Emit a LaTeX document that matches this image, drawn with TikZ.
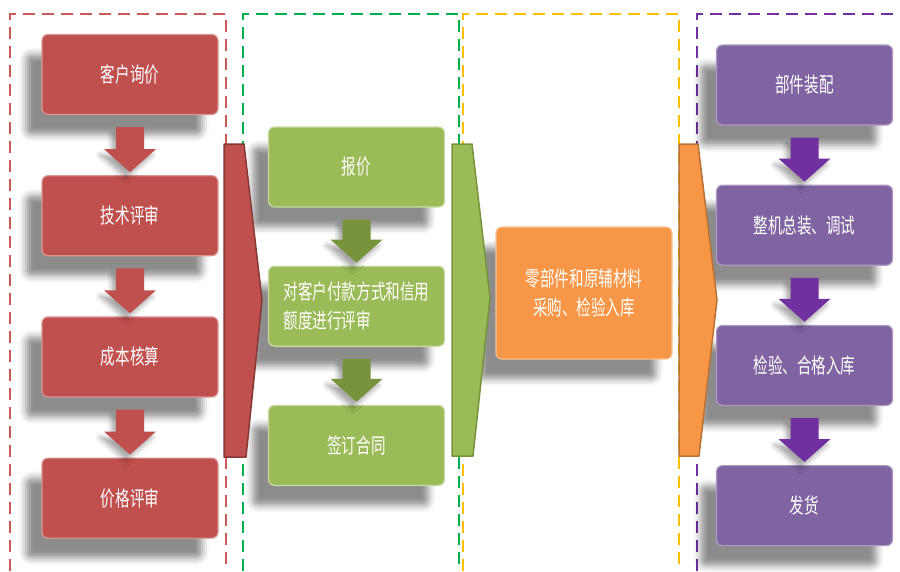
\documentclass[tikz,border=0pt]{standalone}
\usepackage{fontspec}
\usepackage{tikz}
\usetikzlibrary{positioning, calc, shadows.blur}
\newfontfamily\cjk{Noto Sans CJK SC}
\definecolor{stagered}{RGB}{192,80,77}
\definecolor{stagegreen}{RGB}{155,187,89}
\definecolor{stageorange}{RGB}{247,150,70}
\definecolor{stagepurple}{RGB}{128,100,162}
\definecolor{arrowgreen}{RGB}{119,147,60}
\definecolor{arrowpurple}{RGB}{112,48,160}
\definecolor{framered}{RGB}{200,90,88}
\definecolor{framegreen}{RGB}{0,176,80}
\definecolor{frameyellow}{RGB}{255,192,0}
\definecolor{framepurple}{RGB}{112,48,160}

% taller glyphs for the box labels
\newcommand{\tall}[1]{\scalebox{0.97}[1.4]{#1}}

% fat down arrow between two stacked boxes
\newcommand{\flowarrow}[3]{%
  \fill[#3] ([xshift=-14pt,yshift=-12pt]#1.south) -- ([xshift=14pt,yshift=-12pt]#1.south)
    -- ([xshift=14pt,yshift=26pt]#2.north) -- ([xshift=26pt,yshift=26pt]#2.north)
    -- ([yshift=3pt]#2.north) -- ([xshift=-26pt,yshift=26pt]#2.north)
    -- ([xshift=-14pt,yshift=26pt]#2.north) -- cycle;}

\tikzset{
    stagebox/.style={
        rounded corners=6pt,
        minimum width=176pt,
        minimum height=80pt,
        line width=1.2pt,
        text=white,
        font=\cjk\fontsize{15}{29}\selectfont,
        blur shadow={shadow xshift=-16pt, shadow yshift=-20pt, shadow blur radius=7pt, shadow opacity=45}
    },
    redbox/.style={stagebox, fill=stagered, draw=stagered!60!white},
    greenbox/.style={stagebox, fill=stagegreen, draw=stagegreen!55!white},
    orangebox/.style={stagebox, fill=stageorange, draw=stageorange!60!white},
    purplebox/.style={stagebox, fill=stagepurple, draw=stagepurple!65!white},
    downarrow/.style={
        blur shadow={shadow xshift=-4pt, shadow yshift=-6pt, shadow blur radius=5pt, shadow opacity=35}
    },
    frame/.style={line width=2.4pt, dash pattern=on 12pt off 7pt},
    chevron/.style={line width=1.5pt, line join=round}
}

\begin{document}
\begin{tikzpicture}[x=1pt, y=-1pt]
    \useasboundingbox (0,0) rectangle (900,571);

    % dashed phase frames, open at the bottom
    \draw[frame, framered] (10,571) -- (10,14) -- (226,14) -- (226,571);
    \draw[frame, framegreen, line width=1.5pt] (243,571) -- (243,14) -- (459,14) -- (459,571);
    \draw[frame, frameyellow] (463,571) -- (463,14) -- (679,14) -- (679,571);
    \draw[frame, framepurple] (697,571) -- (697,14) -- (900,14);

    % red column
    \node[redbox] (inquiry) at (130,74.5) {\tall{客户询价}};
    \node[redbox, below=60pt of inquiry] (techreview) {\tall{技术评审}};
    \node[redbox, below=60pt of techreview] (costcheck) {\tall{成本核算}};
    \node[redbox, below=60pt of costcheck] (pricereview) {\tall{价格评审}};

    % green column
    \node[greenbox] (quote) at (356.5,167) {\tall{报价}};
    \node[greenbox, below=58pt of quote, align=left] (credit)
        {\tall{对客户付款方式和信用}\\\tall{额度进行评审}};
    \node[greenbox, below=58pt of credit] (contract) {\tall{签订合同}};

    % orange column
    \node[orangebox, minimum height=132pt, align=center] (purchase) at (584,293)
        {\tall{零部件和原辅材料}\\\tall{采购、检验入库}};

    % purple column
    \node[purplebox] (parts) at (804.5,85) {\tall{部件装配}};
    \node[purplebox, below=59pt of parts] (assembly) {\tall{整机总装、调试}};
    \node[purplebox, below=59pt of assembly] (inspect) {\tall{检验、合格入库}};
    \node[purplebox, below=59pt of inspect] (ship) {\tall{发货}};

    % arrows down each column
    \flowarrow{inquiry}{techreview}{downarrow, fill=stagered}
    \flowarrow{techreview}{costcheck}{downarrow, fill=stagered}
    \flowarrow{costcheck}{pricereview}{downarrow, fill=stagered}
    \flowarrow{quote}{credit}{downarrow, fill=arrowgreen}
    \flowarrow{credit}{contract}{downarrow, fill=arrowgreen}
    \flowarrow{parts}{assembly}{downarrow, fill=arrowpurple}
    \flowarrow{assembly}{inspect}{downarrow, fill=arrowpurple}
    \flowarrow{inspect}{ship}{downarrow, fill=arrowpurple}

    % chevrons between the phases, over the shadows
    \filldraw[chevron, fill=stagered, draw=stagered!70!black]
        (224,144) -- (244,144) -- (262,300) -- (246,457) -- (224,457) -- cycle;
    \filldraw[chevron, fill=stagegreen, draw=arrowgreen]
        (452,144) -- (472,144) -- (490,298) -- (473,456) -- (452,456) -- cycle;
    \filldraw[chevron, fill=stageorange, draw=stageorange!75!black]
        (679,144) -- (698,144) -- (717,300) -- (699,456) -- (679,456) -- cycle;

\end{tikzpicture}
\end{document}
